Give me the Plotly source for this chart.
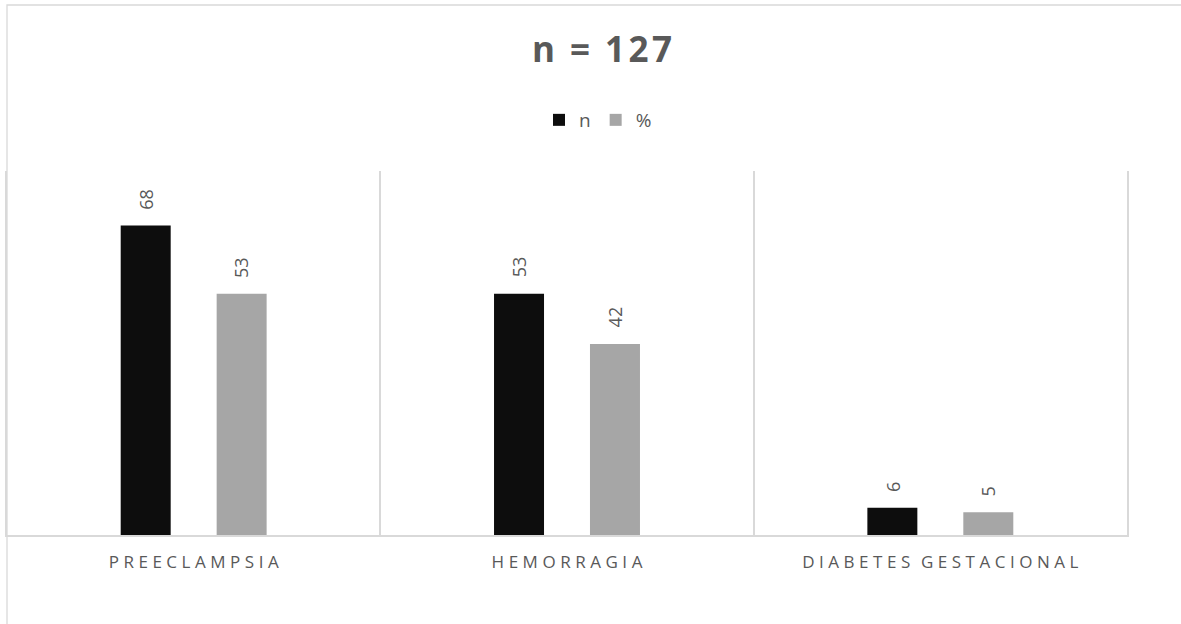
import plotly.graph_objects as go

# Complicaciones obstétricas (n = 127)
categories = ["PREECLAMPSIA", "HEMORRAGIA", "DIABETES GESTACIONAL"]
n_values = [68, 53, 6]
pct_values = [53, 42, 5]
series_names = ["n", "%"]

TEXT_GREY = "#595959"
GRID_GREY = "#d9d9d9"
BAR_COLORS = ["#0d0d0d", "#a6a6a6"]
FONT = "Open Sans"
THIN = "\u2009"
HAIR = "\u200a"
GAP = THIN + HAIR


def spaced(label):
    """Letter-spaced rendering of an uppercase axis label."""
    words = label.split(" ")
    return (GAP + " " + HAIR).join(GAP.join(w) for w in words)


fig = go.Figure()
for name, vals, color in zip(series_names, [n_values, pct_values], BAR_COLORS):
    fig.add_trace(go.Bar(
        name=name,
        x=categories,
        y=vals,
        marker=dict(color=color, line=dict(width=0)),
        hoverinfo="x+y",
    ))

# rotated value labels above each bar
offsets = [-48, 48]
for vals, dx in zip([n_values, pct_values], offsets):
    for cat, v in zip(categories, vals):
        fig.add_annotation(
            x=cat, y=v, xref="x", yref="y",
            text=str(v), showarrow=False,
            textangle=-90, xanchor="center", yanchor="bottom",
            xshift=dx, yshift=14,
            font=dict(family=FONT, size=18, color=TEXT_GREY),
        )

# outer chart border
fig.add_shape(
    type="rect", xref="paper", yref="paper",
    x0=0, x1=1.2, y0=-0.4, y1=1.456,
    line=dict(color=GRID_GREY, width=1.3), fillcolor="rgba(0,0,0,0)",
    layer="below",
)

fig.update_layout(
    width=1181, height=624,
    margin=dict(l=7, r=54, t=171, b=89),
    paper_bgcolor="white", plot_bgcolor="white",
    barmode="group", bargap=0.486, bargroupgap=0.479,
    title=dict(
        text=f"<b>n {THIN}={THIN} 1{HAIR}2{HAIR}7</b>",
        x=602 / 1181, xref="container", xanchor="center",
        y=1 - 50 / 624, yref="container", yanchor="middle",
        font=dict(family=FONT, size=35, color=TEXT_GREY),
    ),
    legend=dict(
        orientation="h",
        x=598 / 1181, xref="container", xanchor="center",
        y=1 - 120 / 624, yref="container", yanchor="middle",
        font=dict(family=FONT, size=19, color=TEXT_GREY),
        itemwidth=30, traceorder="normal",
    ),
    showlegend=True,
    xaxis=dict(
        type="category",
        tickvals=categories,
        ticktext=[spaced(c) for c in categories],
        tickson="boundaries",
        ticks="",
        showgrid=True, gridcolor=GRID_GREY, gridwidth=1.5,
        showline=True, linecolor=GRID_GREY, linewidth=1.5,
        tickfont=dict(family=FONT, size=17, color=TEXT_GREY),
        ticklabelstandoff=11,
        range=[-0.5, 2.5],
        fixedrange=True,
    ),
    yaxis=dict(
        range=[0, 80],
        showticklabels=False, ticks="",
        showgrid=False, zeroline=False,
        showline=True, mirror=True, linecolor=GRID_GREY, linewidth=1.5,
        fixedrange=True,
    ),
)

fig.write_html("out.html")
